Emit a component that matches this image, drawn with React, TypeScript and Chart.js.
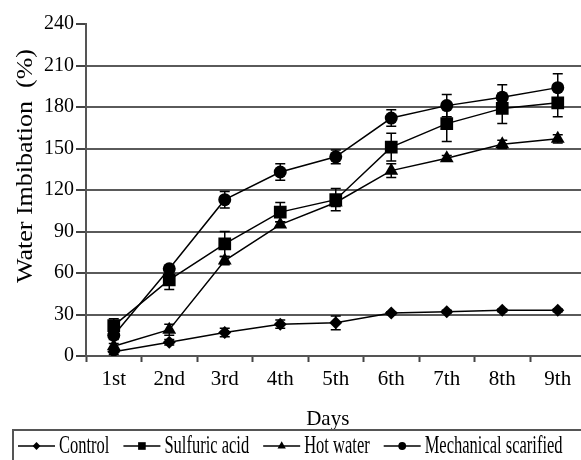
import { useEffect, useRef } from 'react';
import { Chart, registerables } from 'chart.js';

Chart.register(...registerables);

const days = ['1st', '2nd', '3rd', '4th', '5th', '6th', '7th', '8th', '9th'];
const yMin = 0;
const yMax = 240;
const yStep = 30;

const control = [3, 10, 17, 23, 24, 31, 32, 33, 33];
const controlErr = [2, 2, 3, 3, 5, 1, 1, 1, 1];
const sulfuric = [22, 55, 81, 104, 113, 151, 168, 179, 183];
const sulfuricErr = [5, 7, 9, 7, 8, 10, 13, 11, 10];
const hotWater = [7, 19, 69, 95, 111, 134, 143, 153, 157];
const hotWaterErr = [2, 4, 3, 2, 3, 5, 2, 3, 3];
const mechanical = [15, 63, 113, 133, 144, 172, 181, 187, 194];
const mechanicalErr = [3, 2, 6, 6, 5, 6, 8, 9, 10];

const seriesNames = ['Control', 'Sulfuric acid', 'Hot water', 'Mechanical scarified'];
const xTitle = 'Days';
const yTitle = 'Water Imbibation  (%)';

const FONT = "'Liberation Serif', 'Times New Roman', serif";

const seriesList = [
  { name: seriesNames[0], values: control, err: controlErr, style: 'rectRot', radius: 6.5 },
  { name: seriesNames[1], values: sulfuric, err: sulfuricErr, style: 'rect', radius: 9 },
  { name: seriesNames[2], values: hotWater, err: hotWaterErr, style: 'triangle', radius: 8 },
  { name: seriesNames[3], values: mechanical, err: mechanicalErr, style: 'circle', radius: 6.5 },
];

function drawMarker(ctx: CanvasRenderingContext2D, style: string, x: number, y: number, r: number) {
  ctx.beginPath();
  if (style === 'circle') {
    ctx.arc(x, y, r, 0, Math.PI * 2);
  } else if (style === 'rect') {
    const s = r * Math.SQRT1_2;
    ctx.rect(x - s, y - s, 2 * s, 2 * s);
  } else if (style === 'rectRot') {
    ctx.moveTo(x - r, y);
    ctx.lineTo(x, y - r);
    ctx.lineTo(x + r, y);
    ctx.lineTo(x, y + r);
    ctx.closePath();
  } else if (style === 'triangle') {
    const h = r * 1.5;
    const half = r * Math.sin(Math.PI / 3);
    ctx.moveTo(x, y - r);
    ctx.lineTo(x + half, y - r + h);
    ctx.lineTo(x - half, y - r + h);
    ctx.closePath();
  }
  ctx.fill();
}

const overlay = {
  id: 'overlay',
  afterDatasetsDraw(chart: any) {
    const { ctx, scales } = chart;
    const x = scales.x;
    const y = scales.y;
    ctx.save();
    ctx.strokeStyle = '#000';
    ctx.lineWidth = 1.5;
    seriesList.forEach((s) => {
      s.values.forEach((v, i) => {
        const e = s.err[i];
        if (!e) return;
        const px = x.getPixelForValue(i);
        const top = y.getPixelForValue(v + e);
        const bot = y.getPixelForValue(v - e);
        ctx.beginPath();
        ctx.moveTo(px, top);
        ctx.lineTo(px, bot);
        ctx.moveTo(px - 5, top);
        ctx.lineTo(px + 5, top);
        ctx.moveTo(px - 5, bot);
        ctx.lineTo(px + 5, bot);
        ctx.stroke();
      });
    });
    ctx.restore();
  },
  afterDraw(chart: any) {
    const { ctx, chartArea } = chart;
    ctx.save();
    ctx.fillStyle = '#000';

    // Y title
    ctx.save();
    ctx.translate(26, (chartArea.top + chartArea.bottom) / 2 - 24);
    ctx.rotate(-Math.PI / 2);
    ctx.scale(1, 0.85);
    ctx.font = `26px ${FONT}`;
    ctx.textAlign = 'center';
    ctx.textBaseline = 'middle';
    ctx.fillText(yTitle, 0, 0);
    ctx.restore();

    // X title
    ctx.font = `21px ${FONT}`;
    ctx.textAlign = 'center';
    ctx.textBaseline = 'alphabetic';
    ctx.fillText(xTitle, (chartArea.left + chartArea.right) / 2 - 8, 425);

    // Legend box
    ctx.strokeStyle = '#555';
    ctx.lineWidth = 2;
    ctx.strokeRect(13, 430, 620, 40);

    const ly = 446;
    let cx = 18;
    const scaleX = 0.66;
    ctx.font = `25px ${FONT}`;
    ctx.textAlign = 'left';
    seriesList.forEach((s) => {
      ctx.strokeStyle = '#000';
      ctx.lineWidth = 1.5;
      ctx.beginPath();
      ctx.moveTo(cx, ly);
      ctx.lineTo(cx + 37, ly);
      ctx.stroke();
      drawMarker(ctx, s.style, cx + 18.5, ly, s.radius * 0.6);
      const tx = cx + 41;
      ctx.save();
      ctx.translate(tx, 453);
      ctx.scale(scaleX, 1);
      ctx.fillText(s.name, 0, 0);
      ctx.restore();
      const w = ctx.measureText(s.name).width * scaleX;
      cx = tx + w + 14;
    });
    ctx.restore();
  },
};

export default function App() {
  const ref = useRef<HTMLCanvasElement | null>(null);

  useEffect(() => {
    if (!ref.current) return;
    const chart = new Chart(ref.current, {
      type: 'line',
      data: {
        labels: days,
        datasets: seriesList.map((s) => ({
          label: s.name,
          data: s.values,
          borderColor: '#000',
          backgroundColor: '#000',
          borderWidth: 1.5,
          pointStyle: s.style as any,
          pointRadius: s.radius,
          pointHoverRadius: s.radius,
          pointBorderWidth: 0,
          pointBackgroundColor: '#000',
          tension: 0,
        })),
      },
      options: {
        responsive: false,
        animation: false,
        devicePixelRatio: 1,
        layout: { padding: { left: 0, top: 24, right: 14.5, bottom: 40 } },
        plugins: {
          legend: { display: false },
          tooltip: { enabled: false },
        },
        scales: {
          x: {
            type: 'category',
            offset: true,
            afterFit: (s: any) => {
              s.height = 74;
            },
            grid: {
              offset: true,
              drawOnChartArea: false,
              drawTicks: true,
              tickLength: 6,
              tickColor: '#444',
              tickWidth: 2,
            },
            border: { color: '#555', width: 2 },
            ticks: {
              color: '#000',
              font: { family: FONT, size: 21 },
              padding: 5,
              maxRotation: 0,
              autoSkip: false,
            },
          },
          y: {
            min: yMin,
            max: yMax,
            afterFit: (s: any) => {
              s.width = 86;
            },
            grid: {
              color: (c: any) =>
                c.tick && (c.tick.value === yMax || c.tick.value === yMin) ? 'rgba(0,0,0,0)' : '#5a5a5a',
              lineWidth: 2,
              tickLength: 10,
              tickColor: '#444',
              tickWidth: 2,
            },
            border: { color: '#555', width: 2 },
            ticks: {
              stepSize: yStep,
              color: '#000',
              font: { family: FONT, size: 20 },
              padding: 2,
            },
          },
        },
      },
      plugins: [overlay],
    });
    return () => chart.destroy();
  }, []);

  return (
    <div
      style={{
        position: 'absolute',
        left: 0,
        top: 0,
        width: 581,
        height: 460,
        overflow: 'hidden',
        background: '#fff',
      }}
    >
      <canvas ref={ref} width={600} height={470} style={{ display: 'block' }} />
    </div>
  );
}
